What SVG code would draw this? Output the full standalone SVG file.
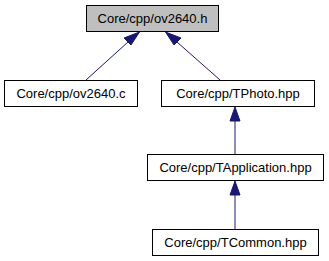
<svg xmlns="http://www.w3.org/2000/svg" width="329" height="261" viewBox="0 0 329 261">
<style>
  .node rect { fill: #ffffff; stroke: #000000; stroke-width: 1; }
  .node.current rect { fill: #bfbfbf; }
  .node text { font-family: "Liberation Sans", Arial, sans-serif; font-size: 13px; fill: #000000; text-anchor: middle; }
  .edge { fill: none; stroke: #191970; stroke-width: 1; }
  .head { fill: #191970; stroke: #191970; stroke-width: 1; }
</style>
<rect width="329" height="261" fill="#ffffff"/>
<g id="edges">
  <!-- ov2640.c -> ov2640.h -->
  <path class="edge" d="M86,80 L128,42"/>
  <polygon class="head" points="124,38 139.5,32 131,45"/>
  <!-- TPhoto.hpp -> ov2640.h -->
  <path class="edge" d="M220,80 L177,42"/>
  <polygon class="head" points="174,45 165.5,32 181,38"/>
  <!-- TApplication.hpp -> TPhoto.hpp -->
  <path class="edge" d="M235,154 L235,121"/>
  <polygon class="head" points="230,121 235,107 240,121"/>
  <!-- TCommon.hpp -> TApplication.hpp -->
  <path class="edge" d="M235,229 L235,195"/>
  <polygon class="head" points="230,195 235,181 240,195"/>
</g>
<g id="node-ov2640-h" class="node current">
  <rect x="86.5" y="5.5" width="132" height="26"/>
  <text x="152.5" y="23">Core/cpp/ov2640.h</text>
</g>
<g id="node-ov2640-c" class="node">
  <rect x="4.5" y="80.5" width="133" height="26"/>
  <text x="71" y="98">Core/cpp/ov2640.c</text>
</g>
<g id="node-tphoto" class="node">
  <rect x="161.5" y="80.5" width="153" height="26"/>
  <text x="238" y="98">Core/cpp/TPhoto.hpp</text>
</g>
<g id="node-tapplication" class="node">
  <rect x="147.5" y="154.5" width="176" height="26"/>
  <text x="235.5" y="172">Core/cpp/TApplication.hpp</text>
</g>
<g id="node-tcommon" class="node">
  <rect x="152.5" y="229.5" width="166" height="26"/>
  <text x="235.5" y="247">Core/cpp/TCommon.hpp</text>
</g>
</svg>
